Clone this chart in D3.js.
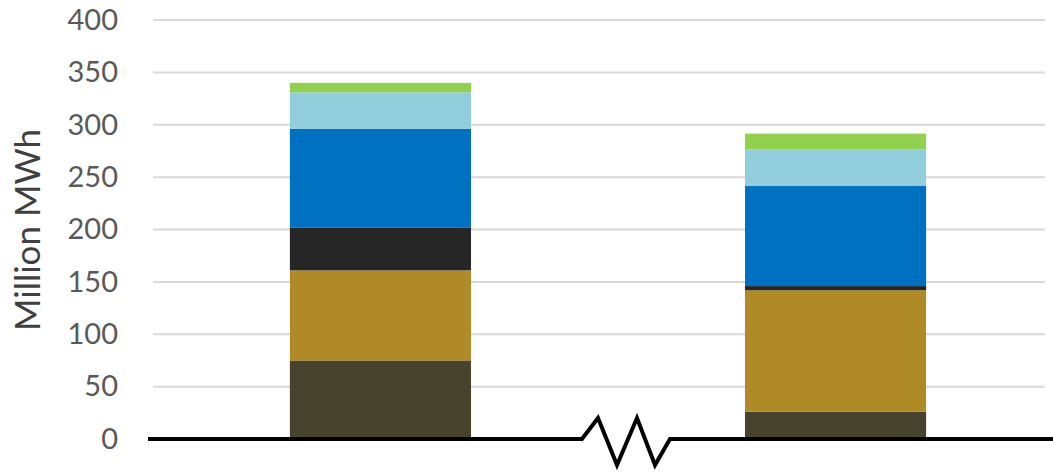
<!DOCTYPE html>
<html>
<head>
<meta charset="utf-8">
<script src="https://cdn.jsdelivr.net/npm/d3@7"></script>
<style>
  body { margin: 0; background: #fff; }
  text { font-family: Lato, "Open Sans", sans-serif; }
</style>
</head>
<body>
<div id="vis"></div>
<script>
// stacked generation bars, two periods, with axis break between them
const categories = ['Before', 'After']
const series = ['Other', 'Coal', 'Oil', 'Nuclear', 'Gas', 'Renewables']
const colors = ['#48432C', '#B08A26', '#262626', '#0070C0', '#92CDDC', '#92D050']
const values = [
  [75, 26],
  [86, 116],
  [41, 4],
  [94, 95.5],
  [35, 35],
  [9, 15]
]
const yTicks = [0, 50, 100, 150, 200, 250, 300, 350, 400]

;(function() {
  const svg_width = 1053,
        svg_height = 472,
        svg = d3.select('#vis').append('svg')

  svg.attr('width', svg_width)
    .attr('height', svg_height)

  const rows = categories.map((c, i) => {
    const r = { cat: c }
    series.forEach((s, j) => { r[s] = values[j][i] })
    return r
  })
  const stacked = d3.stack().keys(series)(rows)

  const y = d3.scaleLinear().domain([0, 400]).range([439, 20])
  const x = d3.scaleBand().domain(categories).range([162, 1054]).paddingInner(0.602).paddingOuter(0.281)

  // gridlines
  svg.append('g')
    .selectAll('line')
    .data(yTicks.filter(d => d > 0))
    .join('line')
    .attr('x1', 153).attr('x2', 1045)
    .attr('y1', d => y(d)).attr('y2', d => y(d))
    .attr('stroke', '#D9D9D9')
    .attr('stroke-width', 2)

  // y axis labels
  const yAxis = svg.append('g')
    .attr('transform', 'translate(130,0)')
    .call(d3.axisLeft(y).tickValues(yTicks).tickSize(0).tickPadding(12))
  yAxis.select('.domain').remove()
  yAxis.selectAll('text')
    .attr('fill', '#595959')
    .style('font-size', '29px')

  svg.append('text')
    .attr('transform', 'translate(40,' + 230 + ') rotate(-90)')
    .attr('text-anchor', 'middle')
    .attr('fill', '#404040')
    .style('font-size', '35px')
    .text('Million MWh')

  // bars
  svg.append('g')
    .selectAll('g')
    .data(stacked)
    .join('g')
    .attr('fill', (d, i) => colors[i])
    .selectAll('rect')
    .data(d => d)
    .join('rect')
    .attr('x', d => x(d.data.cat))
    .attr('width', x.bandwidth())
    .attr('y', d => y(d[1]))
    .attr('height', d => y(d[0]) - y(d[1]))

  // baseline with break
  const by = y(0)
  const brk = d3.line()([
    [148, by], [582, by], [598, by - 21], [617, by + 26],
    [637, by - 21], [655, by + 26], [670, by], [1053, by]
  ])
  svg.append('path')
    .attr('d', brk)
    .attr('fill', 'none')
    .attr('stroke', '#000')
    .attr('stroke-width', 4)
    .attr('stroke-linejoin', 'miter')
}())
</script>
</body>
</html>
